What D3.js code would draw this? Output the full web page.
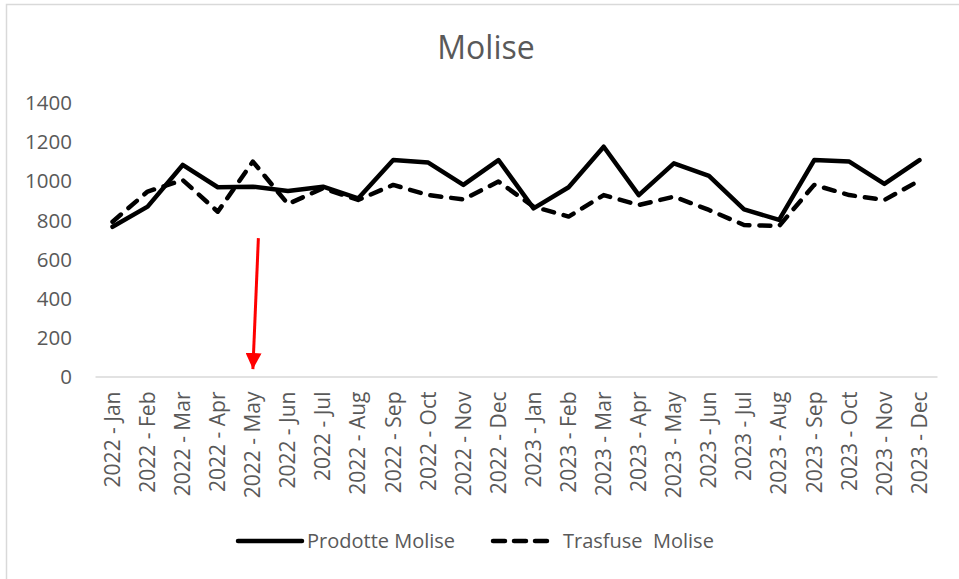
<!DOCTYPE html>
<html>
<head>
<meta charset="utf-8">
<script src="https://cdn.jsdelivr.net/npm/d3@7"></script>
<style>
  body { margin: 0; background: #fff; }
  text { font-family: "Open Sans", sans-serif; fill: #595959; }
</style>
</head>
<body>
<script>
'use strict';

// data
const months = ["Jan", "Feb", "Mar", "Apr", "May", "Jun", "Jul", "Aug", "Sep", "Oct", "Nov", "Dec"];
const categories = ["2022", "2023"].flatMap((y) => months.map((m) => y + " - " + m));
const prodotte = [765, 868, 1081, 967, 970, 948, 970, 910, 1106, 1093, 979, 1106,
                  859, 967, 1174, 927, 1089, 1025, 854, 800, 1106, 1098, 984, 1106];
const trasfuse = [791, 945, 1004, 842, 1098, 881, 962, 902, 979, 927, 905, 996,
                  868, 817, 927, 876, 919, 851, 774, 769, 979, 927, 902, 1001];
const yTicks = [0, 200, 400, 600, 800, 1000, 1200, 1400];
const seriesNames = ["Prodotte Molise", "Trasfuse  Molise"];

// arrow annotation pointing at May 2022
const arrowMonth = "2022 - May";
const arrowFrom = 707, arrowTo = 38;

window.onload = function () {
  const width = 959, height = 579;
  const svg = d3.select('body').append('svg')
    .attr('width', width)
    .attr('height', height);

  // chart border (only the top/left edges sit inside the picture)
  svg.append('rect')
    .attr('x', 6.5).attr('y', 4.5)
    .attr('width', 1000).attr('height', 700)
    .attr('fill', 'none')
    .attr('stroke', '#d9d9d9')
    .attr('stroke-width', 1.5);

  // scales
  const x = d3.scaleBand()
    .domain(categories)
    .range([95, 937]);
  const xc = (d) => x(d) + x.bandwidth() / 2;

  const y = d3.scaleLinear()
    .domain([0, 1400])
    .range([376.5, 102.5]);

  // title
  svg.append('text')
    .attr('x', 486)
    .attr('y', 59)
    .attr('text-anchor', 'middle')
    .style('font-size', '32px')
    .text('Molise');

  // y axis labels (no axis line)
  const yAxis = d3.axisLeft(y).tickValues(yTicks).tickSize(0).tickPadding(0)
    .tickFormat(d3.format('d'));
  const gy = svg.append('g')
    .attr('transform', 'translate(72, 0)')
    .call(yAxis);
  gy.select('.domain').remove();
  gy.selectAll('text')
    .style('font-size', '20.5px')
    .style('font-family', '"Open Sans", sans-serif')
    .attr('fill', '#595959')
    .attr('dy', '0.35em');

  // x axis
  const xAxis = d3.axisBottom(x).tickSize(0).tickPadding(0);
  const gx = svg.append('g')
    .attr('transform', 'translate(0,' + y(0) + ')')
    .call(xAxis);
  gx.select('.domain')
    .attr('stroke', '#d9d9d9')
    .attr('stroke-width', 1.5);
  gx.selectAll('text')
    .style('font-size', '21px')
    .style('font-family', '"Open Sans", sans-serif')
    .attr('fill', '#595959')
    .attr('text-anchor', 'end')
    .attr('transform', 'translate(0, 15) rotate(-90)')
    .attr('x', 0)
    .attr('y', 0)
    .attr('dy', '0.35em');

  // lines
  const line = d3.line()
    .x((d, i) => xc(categories[i]))
    .y((d) => y(d));

  svg.append('path')
    .datum(trasfuse)
    .attr('d', line)
    .attr('fill', 'none')
    .attr('stroke', '#000')
    .attr('stroke-width', 4.5)
    .attr('stroke-linecap', 'round')
    .attr('stroke-linejoin', 'round')
    .attr('stroke-dasharray', '11 10');

  svg.append('path')
    .datum(prodotte)
    .attr('d', line)
    .attr('fill', 'none')
    .attr('stroke', '#000')
    .attr('stroke-width', 4.5)
    .attr('stroke-linecap', 'round')
    .attr('stroke-linejoin', 'round');

  // red arrow annotation
  svg.append('defs').append('marker')
    .attr('id', 'arrowhead')
    .attr('viewBox', '0 0 10 10')
    .attr('refX', 10).attr('refY', 5)
    .attr('markerUnits', 'userSpaceOnUse')
    .attr('markerWidth', 16).attr('markerHeight', 16)
    .attr('orient', 'auto')
    .append('path')
    .attr('d', 'M0,0 L10,5 L0,10 z')
    .attr('fill', '#ff0000');

  svg.append('line')
    .attr('x1', xc(arrowMonth) + 5.5)
    .attr('y1', y(arrowFrom))
    .attr('x2', xc(arrowMonth))
    .attr('y2', y(arrowTo))
    .attr('stroke', '#ff0000')
    .attr('stroke-width', 3)
    .attr('marker-end', 'url(#arrowhead)');

  // legend
  const legend = svg.append('g').attr('transform', 'translate(0, 541)');
  const items = [
    { name: seriesNames[0], x1: 238, x2: 302, dash: null },
    { name: seriesNames[1], x1: 493, x2: 551, dash: '12 9' }
  ];
  items.forEach((it) => {
    legend.append('line')
      .attr('x1', it.x1).attr('x2', it.x2)
      .attr('y1', 0).attr('y2', 0)
      .attr('stroke', '#000')
      .attr('stroke-width', 4.5)
      .attr('stroke-linecap', 'round')
      .attr('stroke-dasharray', it.dash);
    legend.append('text')
      .attr('x', it.x2 + (it.dash ? 12 : 5))
      .attr('y', 0)
      .attr('dy', '0.35em')
      .style('font-size', '20px')
      .style('white-space', 'pre')
      .attr('xml:space', 'preserve')
      .text(it.name);
  });
};
</script>
</body>
</html>
